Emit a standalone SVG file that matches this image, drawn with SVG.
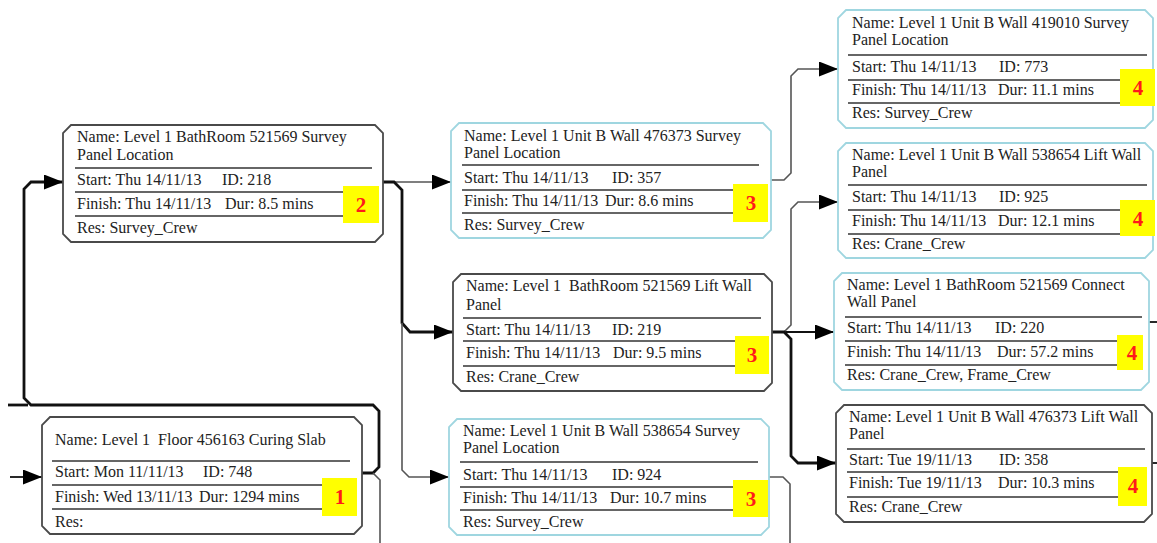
<svg xmlns="http://www.w3.org/2000/svg" width="1157" height="543" viewBox="0 0 1157 543">
<style>
.bx{fill:#fff;stroke-width:1.8}
.dk{stroke:#4a4a4a}
.cy{stroke:#9fd6e0}
.sep{stroke:#333;stroke-width:1.6}
.t{font-family:"Liberation Serif","Times New Roman",serif;font-size:16px;fill:#222;white-space:pre}
.yb{fill:#ffff00}
.num{font-family:"Liberation Serif","Times New Roman",serif;font-size:21px;font-weight:bold;fill:#ff1a1a;text-anchor:middle}
.thin{fill:none;stroke:#555;stroke-width:1.6}
.blk{fill:none;stroke:#111;stroke-width:1.8}
.thick{fill:none;stroke:#111;stroke-width:2.8}
</style>
<defs>
<marker id="ah" markerUnits="userSpaceOnUse" markerWidth="20" markerHeight="16" refX="19" refY="7.5" orient="auto">
<polygon points="0,0 19,7.5 0,15" fill="#000"/>
</marker>
</defs>
<rect width="1157" height="543" fill="#fff"/>
<g id="connectors">
<path class="blk" d="M10,477 H42" marker-end="url(#ah)"/>
<path class="thick" d="M362,473 H373 L379,467 V411 L373,405 H31 L24,398 V189 L31,182 H63" marker-end="url(#ah)"/>
<path class="thick" d="M8,405 H28"/>
<path class="thin" d="M373,473 L380,480 V543"/>
<path class="thin" d="M393,182 H451" marker-end="url(#ah)"/>
<path class="thick" d="M383,182 H394 L402,190 V323 L410,332 H453" marker-end="url(#ah)"/>
<path class="thin" d="M402,323 V470 L409,477 H449" marker-end="url(#ah)"/>
<path class="thin" d="M771,180 H784 L791,173 V76 L798,69 H838" marker-end="url(#ah)"/>
<path class="blk" d="M785,332 H834" marker-end="url(#ah)"/>
<path class="thin" d="M784,332 L791,325 V209 L798,202 H838" marker-end="url(#ah)"/>
<path class="thick" d="M772,332 H784 L791,339 V456 L798,463 H836" marker-end="url(#ah)"/>
<path class="thin" d="M769,477 H783 L790,484 V543"/>
<path class="blk" d="M1149,322 H1157"/>
<path class="blk" d="M1152,463 H1157"/>
</g>
<g id="node1">
<path class="bx dk" d="M50,417 H354 L362,425 V526 L354,534 H50 L42,526 V425 Z"/>
<text class="t" x="55" y="445">Name: Level 1  Floor 456163 Curing Slab</text>
<line class="sep" x1="52" y1="461" x2="350" y2="461"/>
<text class="t" x="55" y="477">Start: Mon 11/11/13</text><text class="t" x="203" y="477">ID: 748</text>
<line class="sep" x1="52" y1="485" x2="322" y2="485"/>
<text class="t" x="55" y="502">Finish: Wed 13/11/13</text><text class="t" x="199" y="502">Dur: 1294 mins</text>
<line class="sep" x1="52" y1="509" x2="322" y2="509"/>
<text class="t" x="55" y="527">Res:</text>
<rect class="yb" x="322" y="478" width="35" height="38"/><text class="num" x="340" y="504">1</text>
</g>
<g id="node2">
<path class="bx dk" d="M71,125 H375 L383,133 V234 L375,242 H71 L63,234 V133 Z"/>
<text class="t" x="77" y="142">Name: Level 1 BathRoom 521569 Survey</text>
<text class="t" x="77" y="160">Panel Location</text>
<line class="sep" x1="75" y1="168" x2="372" y2="168"/>
<text class="t" x="77" y="185">Start: Thu 14/11/13</text><text class="t" x="222" y="185">ID: 218</text>
<line class="sep" x1="75" y1="192" x2="343" y2="192"/>
<text class="t" x="77" y="209">Finish: Thu 14/11/13</text><text class="t" x="225" y="209">Dur: 8.5 mins</text>
<line class="sep" x1="75" y1="216" x2="343" y2="216"/>
<text class="t" x="77" y="233">Res: Survey_Crew</text>
<rect class="yb" x="343" y="186" width="36" height="37"/><text class="num" x="361" y="212">2</text>
</g>
<g id="node3a">
<path class="bx cy" d="M459,123 H763 L771,131 V230 L763,238 H459 L451,230 V131 Z"/>
<text class="t" x="464" y="141">Name: Level 1 Unit B Wall 476373 Survey</text>
<text class="t" x="464" y="158">Panel Location</text>
<line class="sep" x1="462" y1="165" x2="759" y2="165"/>
<text class="t" x="464" y="183">Start: Thu 14/11/13</text><text class="t" x="612" y="183">ID: 357</text>
<line class="sep" x1="462" y1="190" x2="733" y2="190"/>
<text class="t" x="464" y="206">Finish: Thu 14/11/13</text><text class="t" x="605" y="206">Dur: 8.6 mins</text>
<line class="sep" x1="462" y1="213" x2="733" y2="213"/>
<text class="t" x="464" y="230">Res: Survey_Crew</text>
<rect class="yb" x="733" y="184" width="35" height="38"/><text class="num" x="751" y="210">3</text>
</g>
<g id="node3b">
<path class="bx dk" d="M461,274 H764 L772,282 V383 L764,391 H461 L453,383 V282 Z"/>
<text class="t" x="466" y="291">Name: Level 1  BathRoom 521569 Lift Wall</text>
<text class="t" x="466" y="310">Panel</text>
<line class="sep" x1="463" y1="318" x2="761" y2="318"/>
<text class="t" x="466" y="335">Start: Thu 14/11/13</text><text class="t" x="612" y="335">ID: 219</text>
<line class="sep" x1="463" y1="341" x2="735" y2="341"/>
<text class="t" x="466" y="358">Finish: Thu 14/11/13</text><text class="t" x="613" y="358">Dur: 9.5 mins</text>
<line class="sep" x1="463" y1="366" x2="735" y2="366"/>
<text class="t" x="466" y="382">Res: Crane_Crew</text>
<rect class="yb" x="735" y="336" width="34" height="38"/><text class="num" x="752" y="362">3</text>
</g>
<g id="node3c">
<path class="bx cy" d="M457,419 H761 L769,427 V527 L761,535 H457 L449,527 V427 Z"/>
<text class="t" x="463" y="436">Name: Level 1 Unit B Wall 538654 Survey</text>
<text class="t" x="463" y="453">Panel Location</text>
<line class="sep" x1="460" y1="462" x2="758" y2="462"/>
<text class="t" x="463" y="480">Start: Thu 14/11/13</text><text class="t" x="612" y="480">ID: 924</text>
<line class="sep" x1="460" y1="487" x2="733" y2="487"/>
<text class="t" x="463" y="503">Finish: Thu 14/11/13</text><text class="t" x="610" y="503">Dur: 10.7 mins</text>
<line class="sep" x1="460" y1="510" x2="733" y2="510"/>
<text class="t" x="463" y="527">Res: Survey_Crew</text>
<rect class="yb" x="733" y="480" width="35" height="37"/><text class="num" x="751" y="506">3</text>
</g>
<g id="node4a">
<path class="bx cy" d="M846,10 H1145 L1153,18 V120 L1145,128 H846 L838,120 V18 Z"/>
<text class="t" x="852" y="28">Name: Level 1 Unit B Wall 419010 Survey</text>
<text class="t" x="852" y="45">Panel Location</text>
<line class="sep" x1="848" y1="55" x2="1147" y2="55"/>
<text class="t" x="852" y="72">Start: Thu 14/11/13</text><text class="t" x="999" y="72">ID: 773</text>
<line class="sep" x1="848" y1="80" x2="1120" y2="80"/>
<text class="t" x="852" y="95">Finish: Thu 14/11/13</text><text class="t" x="998" y="95">Dur: 11.1 mins</text>
<line class="sep" x1="848" y1="103" x2="1120" y2="103"/>
<text class="t" x="852" y="118">Res: Survey_Crew</text>
<rect class="yb" x="1120" y="69" width="35" height="37"/><text class="num" x="1138" y="95">4</text>
</g>
<g id="node4b">
<path class="bx cy" d="M846,143 H1145 L1153,151 V250 L1145,258 H846 L838,250 V151 Z"/>
<text class="t" x="852" y="160">Name: Level 1 Unit B Wall 538654 Lift Wall</text>
<text class="t" x="852" y="177">Panel</text>
<line class="sep" x1="848" y1="185" x2="1147" y2="185"/>
<text class="t" x="852" y="202">Start: Thu 14/11/13</text><text class="t" x="999" y="202">ID: 925</text>
<line class="sep" x1="848" y1="210" x2="1120" y2="210"/>
<text class="t" x="852" y="226">Finish: Thu 14/11/13</text><text class="t" x="998" y="226">Dur: 12.1 mins</text>
<line class="sep" x1="848" y1="234" x2="1120" y2="234"/>
<text class="t" x="852" y="249">Res: Crane_Crew</text>
<rect class="yb" x="1120" y="200" width="35" height="36"/><text class="num" x="1138" y="226">4</text>
</g>
<g id="node4c">
<path class="bx cy" d="M842,273 H1141 L1149,281 V382 L1141,390 H842 L834,382 V281 Z"/>
<text class="t" x="847" y="290">Name: Level 1 BathRoom 521569 Connect</text>
<text class="t" x="847" y="307">Wall Panel</text>
<line class="sep" x1="845" y1="317" x2="1142" y2="317"/>
<text class="t" x="847" y="333">Start: Thu 14/11/13</text><text class="t" x="995" y="333">ID: 220</text>
<line class="sep" x1="845" y1="341" x2="1117" y2="341"/>
<text class="t" x="847" y="357">Finish: Thu 14/11/13</text><text class="t" x="997" y="357">Dur: 57.2 mins</text>
<line class="sep" x1="845" y1="365" x2="1117" y2="365"/>
<text class="t" x="847" y="380">Res: Crane_Crew, Frame_Crew</text>
<rect class="yb" x="1117" y="335" width="26" height="35"/><text class="num" x="1132" y="360">4</text>
</g>
<g id="node4d">
<path class="bx dk" d="M844,405 H1144 L1152,413 V514 L1144,522 H844 L836,514 V413 Z"/>
<text class="t" x="849" y="422">Name: Level 1 Unit B Wall 476373 Lift Wall</text>
<text class="t" x="849" y="439">Panel</text>
<line class="sep" x1="847" y1="449" x2="1145" y2="449"/>
<text class="t" x="849" y="465">Start: Tue 19/11/13</text><text class="t" x="999" y="465">ID: 358</text>
<line class="sep" x1="847" y1="472" x2="1118" y2="472"/>
<text class="t" x="849" y="488">Finish: Tue 19/11/13</text><text class="t" x="998" y="488">Dur: 10.3 mins</text>
<line class="sep" x1="847" y1="497" x2="1118" y2="497"/>
<text class="t" x="849" y="512">Res: Crane_Crew</text>
<rect class="yb" x="1118" y="467" width="29" height="39"/><text class="num" x="1133" y="493">4</text>
</g>
</svg>
